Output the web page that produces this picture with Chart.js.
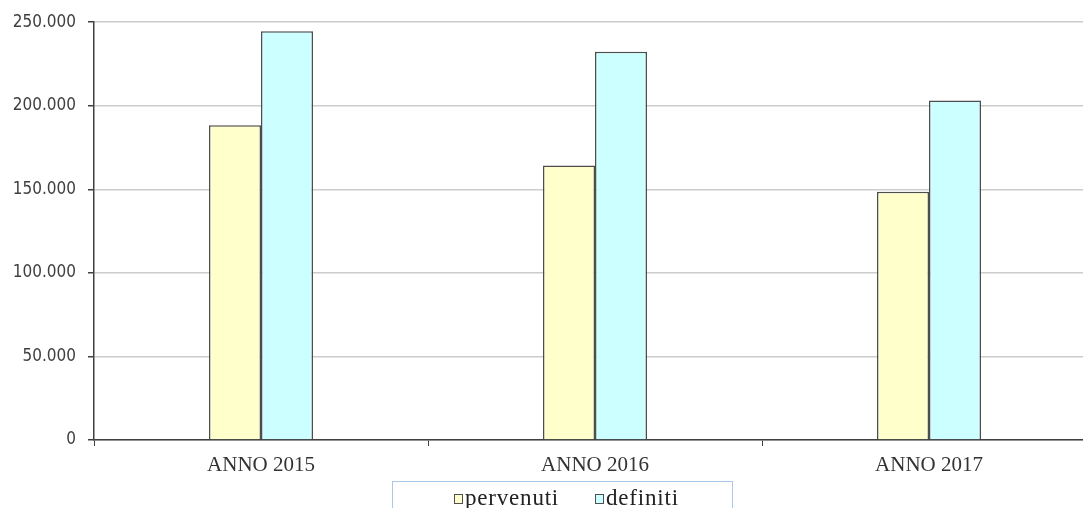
<!DOCTYPE html>
<html>
<head>
<meta charset="utf-8">
<script src="https://cdn.jsdelivr.net/npm/chart.js@4"></script>
<style>
  html, body { margin: 0; padding: 0; background: #fff; overflow: hidden; }
  #wrap { position: relative; width: 1083px; height: 508px; overflow: hidden; }
  #legend {
    position: absolute; left: 392px; top: 481px; width: 341px; height: 40px;
    border: 1px solid #a9c8ea; box-sizing: border-box;
    font-family: 'Liberation Serif', serif; font-size: 23px; color: #222;
    letter-spacing: 0.8px;
  }
  #legend .item { position: absolute; top: 4px; white-space: nowrap; line-height: 23px; }
  #legend .box { display: inline-block; width: 7px; height: 8px; border: 1px solid #505050; margin-right: 2px; vertical-align: 1px; }
</style>
</head>
<body>
<div id="wrap">
  <canvas id="graph" width="1100" height="508"></canvas>
  <div id="legend"></div>
</div>
<script>
// Dati del grafico
var anni = ['ANNO 2015', 'ANNO 2016', 'ANNO 2017'];
var pervenuti = [188400, 164200, 148600];
var definiti = [244600, 232300, 203100];
var serie = ['pervenuti', 'definiti'];
var colori = ['#ffffcc', '#ccffff'];

// Formato con punto come separatore delle migliaia
function formatta(v) {
    return String(v).replace(/\B(?=(\d{3})+(?!\d))/g, '.');
}

var chart = new Chart(document.getElementById('graph'), {
    type: 'bar',
    data: {
        labels: anni,
        datasets: [
            { label: serie[0], data: pervenuti, backgroundColor: colori[0], borderColor: '#4d4d4d', borderWidth: 1.5 },
            { label: serie[1], data: definiti, backgroundColor: colori[1], borderColor: '#4d4d4d', borderWidth: 1.5 }
        ]
    },
    options: {
        responsive: false,
        animation: false,
        devicePixelRatio: 1,
        layout: { padding: { left: 0, right: 4, top: 22, bottom: 0 } },
        plugins: {
            legend: { display: false },
            tooltip: { enabled: false }
        },
        datasets: {
            bar: { categoryPercentage: 104 / 334, barPercentage: 1 }
        },
        scales: {
            x: {
                afterFit: function (scale) { scale.height = 68; },
                grid: { display: true, drawOnChartArea: false, drawTicks: true, tickLength: 6, tickColor: '#404040', offset: true },
                border: { color: '#404040', width: 1.5 },
                ticks: {
                    padding: 7,
                    color: '#333',
                    font: { family: 'Liberation Serif', size: 21 }
                }
            },
            y: {
                min: 0,
                max: 250000,
                afterFit: function (scale) { scale.width = 94; },
                grid: { color: '#cccccc', lineWidth: 1.5, tickLength: 6, tickColor: '#404040' },
                border: { color: '#404040', width: 1.5 },
                ticks: {
                    stepSize: 50000,
                    padding: 12,
                    color: '#404040',
                    font: { family: "'DejaVu Sans Condensed', 'Liberation Sans'", size: 17 },
                    callback: function (v) { return formatta(v); }
                }
            }
        }
    }
});

// Legenda in HTML sotto il grafico
var legenda = document.getElementById('legend');
var posizioni = [61, 202];
serie.forEach(function (nome, i) {
    var item = document.createElement('span');
    item.className = 'item';
    item.style.left = posizioni[i] + 'px';
    var box = document.createElement('span');
    box.className = 'box';
    box.style.background = colori[i];
    item.appendChild(box);
    item.appendChild(document.createTextNode(nome));
    legenda.appendChild(item);
});
</script>
</body>
</html>
